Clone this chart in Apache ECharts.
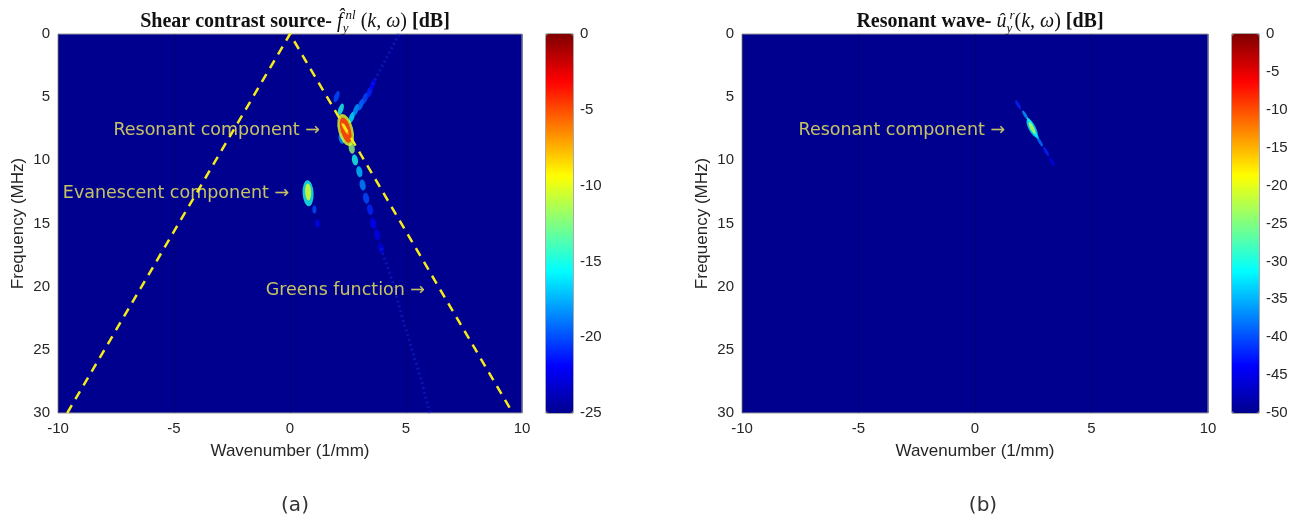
<!DOCTYPE html>
<html>
<head>
<meta charset="utf-8">
<script src="https://cdn.jsdelivr.net/npm/echarts@6/dist/echarts.min.js"></script>
<style>
    html, body {margin: 0; padding: 0; background: #fff;}
    #main {width: 1292px; height: 519px;}
</style>
</head>
<body>
<div id="main"></div>
<script>
// jet 色表
var jet = ['#00008f', '#0000ff', '#0080ff', '#00ffff', '#80ff80', '#ffff00', '#ff8000', '#ff0000', '#800000'];

var kTicks = [-10, -5, 0, 5, 10];
var fTicks = [0, 5, 10, 15, 20, 25, 30];
var cbTicksA = [-25, -20, -15, -10, -5, 0];
var cbTicksB = [-50, -45, -40, -35, -30, -25, -20, -15, -10, -5, 0];

// 黄色虚线 (k, f)
var lineK = [-9.6, 0, 9.6];
var lineF = [30, 0, 30];

// (a) 各个光斑 [k, f, dB]
var resHalo = [[2.40, 7.6, -10]];
var resCore = [[2.40, 7.6, -4]];
var resStripe = [[2.37, 7.5, -8]];
var upperLobes = [[2.19, 5.96, -15], [2.01, 4.96, -20], [2.66, 6.6, -16], [2.84, 6.0, -18], [3.05, 5.6, -19],
    [3.23, 5.1, -20], [3.42, 4.6, -21], [3.56, 4.0, -22]];
var lowerLobes = [[2.23, 8.26, -18], [2.66, 9.05, -12], [2.80, 9.97, -15], [2.99, 10.9, -17], [3.13, 11.95, -18.5],
    [3.28, 13.0, -20], [3.45, 13.9, -21], [3.59, 15.0, -22], [3.76, 15.9, -22.5], [3.92, 16.96, -23]];
var evaHalo = [[0.78, 12.6, -15]];
var evaCore = [[0.78, 12.5, -10]];
var evaTail = [[1.05, 13.9, -20], [1.18, 15.0, -22]];
// 淡的脊线
var ridgeUpK = [3.56, 3.88, 4.31, 4.70];
var ridgeUpF = [4.0, 2.85, 1.4, 0];
var ridgeDownK = [3.92, 4.44, 4.83, 5.26, 5.69, 6.03];
var ridgeDownF = [16.96, 19.7, 22.4, 25.0, 27.6, 30];

// (b) 光斑 [k, f, dB]
var streakB = [[1.85, 5.6, -42], [2.15, 6.4, -36], [2.36, 6.97, -30], [2.62, 8.0, -31], [2.79, 8.55, -38],
    [3.05, 9.3, -42], [3.30, 10.1, -45]];
var haloB = [[2.45, 7.44, -32]];
var coreB = [[2.45, 7.44, -22]];

// 标注 [k, f, 文字]
var notesA = [[1.29, 7.6, 'Resonant component →'], [-0.04, 12.6, 'Evanescent component →'], [5.82, 20.3, 'Greens function →']];
var notesB = [[1.29, 7.6, 'Resonant component →']];

var tickFont = {color: '#262626', fontSize: 15, fontFamily: 'Liberation Sans'};
var navy = jet[0];

function zip(xs, ys) {
    var out = [];
    for (var i = 0; i < xs.length; i++) out.push([xs[i], ys[i]]);
    return out;
}

function plotX(idx) {
    return {
        gridIndex: idx, type: 'value', min: -10, max: 10, interval: 5,
        name: 'Wavenumber (1/mm)', nameLocation: 'middle', nameGap: 30,
        nameTextStyle: {color: '#262626', fontSize: 17, fontFamily: 'Liberation Sans'},
        axisLine: {show: false, onZero: false},
        axisTick: {show: false},
        splitLine: {show: true, lineStyle: {color: 'rgba(0,0,60,0.35)', width: 1}},
        axisLabel: tickFont
    };
}

function plotY(idx) {
    return {
        gridIndex: idx, type: 'value', min: 0, max: 30, interval: 5, inverse: true,
        name: 'Frequency (MHz)', nameLocation: 'middle', nameGap: 31,
        nameTextStyle: {color: '#262626', fontSize: 17, fontFamily: 'Liberation Sans'},
        axisLine: {show: false, onZero: false},
        axisTick: {show: false},
        splitLine: {show: false},
        axisLabel: tickFont
    };
}

function blob(data, idx, size, rotate) {
    return {
        type: 'scatter', xAxisIndex: idx, yAxisIndex: idx, data: data,
        symbol: 'circle', symbolSize: size, symbolRotate: rotate || 0,
        silent: true, animation: false
    };
}

function notes(data, idx) {
    return {
        type: 'scatter', xAxisIndex: idx, yAxisIndex: idx, data: data, symbolSize: 0, z: 10,
        silent: true, animation: false,
        label: {
            show: true, position: 'left', distance: 0,
            color: '#f6f258', fontSize: 17.5, fontFamily: 'DejaVu Sans',
            formatter: function (p) { return p.data[2]; }
        }
    };
}

function ridge(xs, ys, idx) {
    return {
        type: 'line', xAxisIndex: idx, yAxisIndex: idx, data: zip(xs, ys), showSymbol: false, silent: true,
        animation: false, lineStyle: {color: '#1428d8', width: 3, type: [2, 3], opacity: 0.5}
    };
}

var titleRich = {
    b: {fontFamily: 'Liberation Serif', fontWeight: 'bold', fontSize: 20, color: '#111', lineHeight: 26},
    i: {fontFamily: 'Liberation Serif', fontWeight: 'normal', fontStyle: 'italic', fontSize: 20, color: '#111', lineHeight: 26},
    p: {fontFamily: 'Liberation Serif', fontWeight: 'normal', fontSize: 20, color: '#111', lineHeight: 26},
    gap: {fontSize: 20, width: 3, lineHeight: 26},
    sub: {fontFamily: 'Liberation Serif', fontWeight: 'normal', fontStyle: 'italic', fontSize: 13, color: '#111', verticalAlign: 'bottom', lineHeight: 26, width: 0},
    sup: {fontFamily: 'Liberation Serif', fontWeight: 'normal', fontStyle: 'italic', fontSize: 13, color: '#111', verticalAlign: 'top', lineHeight: 26}
};

var series = [
    // 左图
    ridge(ridgeUpK, ridgeUpF, 0),
    ridge(ridgeDownK, ridgeDownF, 0),
    blob(upperLobes, 0, [5, 12], -20),
    blob(lowerLobes, 0, [6, 11], 10),
    blob(evaTail, 0, [4, 8], 0),
    blob(evaHalo, 0, [11, 26], 3),
    blob(evaCore, 0, [6, 17], 3),
    blob(resHalo, 0, [15, 33], 15),
    blob(resCore, 0, [10, 26], 15),
    blob(resStripe, 0, [3, 14], 30),
    {
        type: 'line', xAxisIndex: 0, yAxisIndex: 0, data: zip(lineK, lineF), showSymbol: false, silent: true,
        animation: false, z: 5, lineStyle: {color: '#f4ea1c', width: 2.5, type: [9, 7]}
    },
    notes(notesA, 0),
    // 右图
    blob(streakB, 1, [3, 10], 31),
    blob(haloB, 1, [7, 20], 28),
    blob(coreB, 1, [4, 13], 28),
    notes(notesB, 1)
];

var option = {
    backgroundColor: '#fff',
    animation: false,
    title: [
        {
            text: '{b|Shear contrast source- }{i|f̂}{gap|}{sub|y}{sup|nl}{p| (}{i|k, ω}{p|) }{b|[dB]}',
            left: 290, top: 4, textAlign: 'center', textStyle: {rich: titleRich}
        },
        {
            text: '{b|Resonant wave- }{i|û}{gap|}{sub|y}{sup|r}{p|(}{i|k, ω}{p|) }{b|[dB]}',
            left: 975, top: 4, textAlign: 'center', textStyle: {rich: titleRich}
        },
        {text: '(a)', left: 290, top: 491, textAlign: 'center',
            textStyle: {fontFamily: 'DejaVu Sans', fontWeight: 'normal', fontSize: 20, color: '#333'}},
        {text: '(b)', left: 978, top: 491, textAlign: 'center',
            textStyle: {fontFamily: 'DejaVu Sans', fontWeight: 'normal', fontSize: 20, color: '#333'}}
    ],
    grid: [
        {left: 58, top: 34, width: 464, height: 379, show: true, backgroundColor: navy, borderColor: '#9a9a9a', borderWidth: 1},
        {left: 742, top: 34, width: 466, height: 379, show: true, backgroundColor: navy, borderColor: '#9a9a9a', borderWidth: 1},
        {left: 546, top: 34, width: 27, height: 379, show: true, borderColor: '#555', borderWidth: 1},
        {left: 1232, top: 34, width: 27, height: 379, show: true, borderColor: '#555', borderWidth: 1}
    ],
    xAxis: [
        plotX(0), plotX(1),
        {gridIndex: 2, type: 'value', show: false},
        {gridIndex: 3, type: 'value', show: false}
    ],
    yAxis: [
        plotY(0), plotY(1),
        {gridIndex: 2, type: 'value', position: 'right', min: cbTicksA[0], max: cbTicksA[cbTicksA.length - 1], interval: 5,
            axisLine: {show: false}, axisTick: {show: false}, splitLine: {show: false},
            axisLabel: {color: '#262626', fontSize: 15, fontFamily: 'Liberation Sans', margin: 7}},
        {gridIndex: 3, type: 'value', position: 'right', min: cbTicksB[0], max: cbTicksB[cbTicksB.length - 1], interval: 5,
            axisLine: {show: false}, axisTick: {show: false}, splitLine: {show: false},
            axisLabel: {color: '#262626', fontSize: 15, fontFamily: 'Liberation Sans', margin: 7}}
    ],
    visualMap: [
        {
            type: 'continuous', min: -25, max: 0, dimension: 2, seriesIndex: [2, 3, 4, 5, 6, 7, 8, 9],
            calculable: false, realtime: false, left: 546, top: 34, itemWidth: 27, itemHeight: 379,
            padding: 0, text: null, showLabel: false, inRange: {color: jet}, hoverLink: false
        },
        {
            type: 'continuous', min: -50, max: 0, dimension: 2, seriesIndex: [12, 13, 14],
            calculable: false, realtime: false, left: 1232, top: 34, itemWidth: 27, itemHeight: 379,
            padding: 0, text: null, showLabel: false, inRange: {color: jet}, hoverLink: false
        }
    ],
    series: series
};

var myChart = echarts.init(document.getElementById('main'));
myChart.setOption(option);
</script>
</body>
</html>
